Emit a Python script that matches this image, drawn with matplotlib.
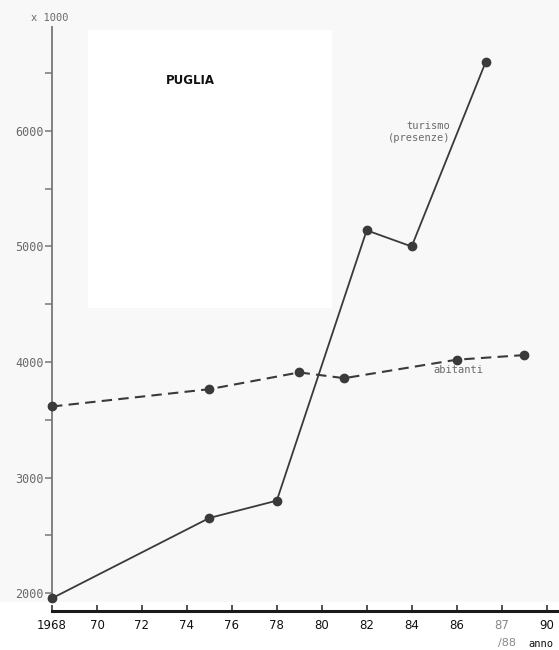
import matplotlib
matplotlib.use("Agg")
import matplotlib.pyplot as plt
from matplotlib.patches import Rectangle
from matplotlib.ticker import MultipleLocator

# --- data ---
tur_years = [1968, 1975, 1978, 1982, 1984, 1987.3]
tur_values = [1955, 2650, 2800, 5140, 5000, 6600]

ab_years = [1968, 1975, 1979, 1981, 1986, 1989]
ab_values = [3615, 3765, 3910, 3860, 4020, 4060]

x_ticks = [1968, 1970, 1972, 1974, 1976, 1978, 1980, 1982, 1984, 1986, 1988, 1990]
x_labels = ["1968", "70", "72", "74", "76", "78", "80", "82", "84", "86", "87", "90"]
y_ticks = [2000, 3000, 4000, 5000, 6000]

LINE = "#3a3a3a"
GREY = "#6a6a6a"
MONO = "DejaVu Sans Mono"

W, H = 559, 650
fig = plt.figure(figsize=(W / 100, H / 100), dpi=100, facecolor="#f8f8f8")

# pasted-on white areas of the scan
fig.patches.append(Rectangle((88 / W, 1 - 308 / H), 244 / W, 278 / H,
                             transform=fig.transFigure, facecolor="white",
                             edgecolor="none", zorder=-5))
fig.patches.append(Rectangle((0, 0), 1, 48 / H, transform=fig.transFigure,
                             facecolor="white", edgecolor="none", zorder=-5))

ax = fig.add_axes([52 / W, 1 - 600 / H, 508 / W, 573 / H])
ax.set_facecolor("none")
ax.set_zorder(2)

ax.plot(tur_years, tur_values, color=LINE, lw=1.3, marker="o", ms=6,
        clip_on=False, zorder=3)
ax.plot(ab_years, ab_values, color=LINE, lw=1.5, ls=(0, (5, 3)), marker="o",
        ms=6, clip_on=False, zorder=3)

ax.set_xlim(1968, 1990.6)
ax.set_ylim(1940, 6900)

# y axis
ax.spines["left"].set_color("#777777")
ax.spines["left"].set_linewidth(1.3)
ax.set_yticks(y_ticks)
ax.set_yticklabels([str(v) for v in y_ticks], fontsize=8.5, color=GREY,
                   family=MONO)
ax.yaxis.set_minor_locator(MultipleLocator(500))
ax.tick_params(axis="y", which="both", direction="out", length=5, width=1.1,
               color="#777777", pad=1)

# x axis, offset below the plot
ax.spines["bottom"].set_position(("outward", 8))
ax.spines["bottom"].set_color("#1a1a1a")
ax.spines["bottom"].set_linewidth(2.2)
ax.set_xticks(x_ticks)
ax.set_xticklabels(x_labels, fontsize=8.5, color="#111111")
ax.tick_params(axis="x", direction="in", length=4, width=1.1, pad=6,
               color="#222222")
for lbl in ax.get_xticklabels():
    if lbl.get_text() == "87":
        lbl.set_color("#888888")
ax.annotate("/88", xy=(1988, ax.get_ylim()[0]), xycoords="data",
            xytext=(4, -31), textcoords="offset points", fontsize=8,
            color="#888888", ha="center", va="center", annotation_clip=False)

ax.spines["top"].set_visible(False)
ax.spines["right"].set_visible(False)

# texts
fig.text(50 / W, 1 - 18 / H, "x 1000", fontsize=7.5, color=GREY, family=MONO,
         ha="center", va="center")
fig.text(190 / W, 1 - 81 / H, "PUGLIA", fontsize=8.5, fontweight="bold",
         ha="center", va="center", color="#111111")
fig.text(450 / W, 1 - 132 / H, "turismo\n(presenze)", fontsize=7.5,
         color=GREY, family=MONO, ha="right", va="center", linespacing=1.2)
fig.text(458 / W, 1 - 370 / H, "abitanti", fontsize=7.5, color=GREY,
         family=MONO, ha="center", va="center")
fig.text(541 / W, 1 - 644 / H, "anno", fontsize=7.5, color="#111111",
         family=MONO, ha="center", va="center")

fig.savefig("out.png", dpi=100, facecolor=fig.get_facecolor())
